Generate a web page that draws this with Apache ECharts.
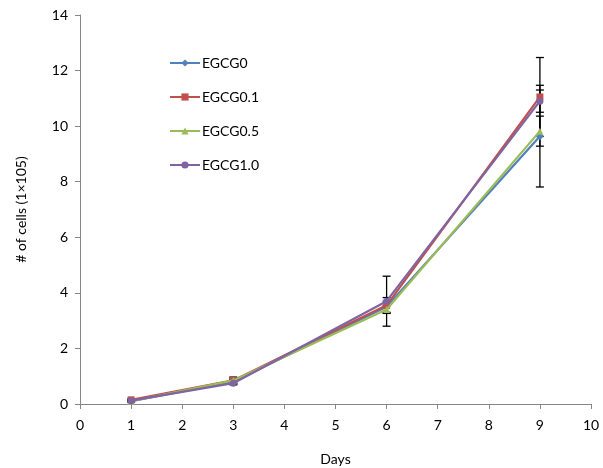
<!DOCTYPE html>
<html>
<head>
<meta charset="utf-8">
<script src="https://cdn.jsdelivr.net/npm/echarts@6/dist/echarts.min.js"></script>
<style>
  html, body { margin: 0; padding: 0; background: #fff; }
  #chart { width: 603px; height: 468px; }
</style>
</head>
<body>
<div id="chart"></div>
<script>
// Cell growth under EGCG treatment.
const days = [1, 3, 6, 9];
const names = ['EGCG0', 'EGCG0.1', 'EGCG0.5', 'EGCG1.0'];
const colors = ['#4F81BD', '#C0504D', '#9BBB59', '#8064A2'];
const symbols = ['diamond', 'rect', 'triangle', 'circle'];

const egcg0 = [0.10, 0.80, 3.50, 9.64];
const egcg01 = [0.15, 0.85, 3.55, 11.05];
const egcg05 = [0.10, 0.85, 3.40, 9.82];
const egcg10 = [0.12, 0.75, 3.70, 10.90];

// symmetric error (± value) per point
const err0 = [0.02, 0.08, 0.20, 1.83];
const err01 = [0.03, 0.12, 0.28, 1.42];
const err05 = [0.02, 0.08, 0.14, 0.54];
const err10 = [0.02, 0.06, 0.90, 0.40];

const values = [egcg0, egcg01, egcg05, egcg10];
const errors = [err0, err01, err05, err10];

const FONT = 'Lato, "Open Sans", sans-serif';
const AXIS_GREY = '#868686';

const chart = echarts.init(document.getElementById('chart'), null, { renderer: 'canvas' });

// Error bars: vertical line with short caps, drawn under the markers.
function errorSeries(vals, errs, i) {
  return {
    type: 'custom',
    name: names[i] + ' err',
    z: 1,
    silent: true,
    renderItem: (params, api) => {
      const x = api.value(0);
      const lo = api.coord([x, api.value(1)]);
      const hi = api.coord([x, api.value(2)]);
      const w = 4;
      const style = { stroke: '#000', lineWidth: 1.3 };
      return {
        type: 'group',
        children: [
          { type: 'line', shape: { x1: lo[0], y1: lo[1], x2: hi[0], y2: hi[1] }, style },
          { type: 'line', shape: { x1: lo[0] - w, y1: lo[1], x2: lo[0] + w, y2: lo[1] }, style },
          { type: 'line', shape: { x1: hi[0] - w, y1: hi[1], x2: hi[0] + w, y2: hi[1] }, style },
        ],
      };
    },
    data: days.map((d, k) => [d, vals[k] - errs[k], vals[k] + errs[k]]),
  };
}

const lineSeries = values.map((vals, i) => ({
  name: names[i],
  type: 'line',
  z: 2 + i,
  symbol: symbols[i],
  symbolSize: symbols[i] === 'diamond' ? 8 : 7,
  showAllSymbol: true,
  itemStyle: { color: colors[i] },
  lineStyle: { color: colors[i], width: 2.2 },
  data: days.map((d, k) => [d, vals[k]]),
}));

chart.setOption({
  animation: false,
  textStyle: { fontFamily: FONT },
  grid: { left: 80, right: 12, top: 15, bottom: 64, outerBoundsMode: 'none' },
  legend: {
    orient: 'vertical',
    left: 164,
    top: 51,
    itemWidth: 30,
    itemHeight: 9,
    itemGap: 20,
    data: names,
    textStyle: { color: '#000', fontSize: 14, fontFamily: FONT, padding: [0, 0, 0, -3] },
  },
  xAxis: {
    type: 'value',
    min: 0, max: 10, interval: 1,
    name: 'Days',
    nameLocation: 'middle',
    nameGap: 48,
    nameTextStyle: { color: '#000', fontSize: 14 },
    axisLine: { onZero: false, lineStyle: { color: AXIS_GREY, width: 1 } },
    axisTick: { show: true, length: 5, lineStyle: { color: AXIS_GREY } },
    axisLabel: { color: '#000', fontSize: 14, margin: 14 },
    splitLine: { show: false },
  },
  yAxis: {
    type: 'value',
    min: 0, max: 14, interval: 2,
    name: '# of cells (1×105)',
    nameLocation: 'middle',
    nameGap: 52,
    nameTextStyle: { color: '#000', fontSize: 14 },
    axisLine: { show: true, lineStyle: { color: AXIS_GREY, width: 1 } },
    axisTick: { show: true, length: 5, lineStyle: { color: AXIS_GREY } },
    axisLabel: { color: '#000', fontSize: 14, margin: 12 },
    splitLine: { show: false },
  },
  series: [...values.map((v, i) => errorSeries(v, errors[i], i)), ...lineSeries],
});
</script>
</body>
</html>
